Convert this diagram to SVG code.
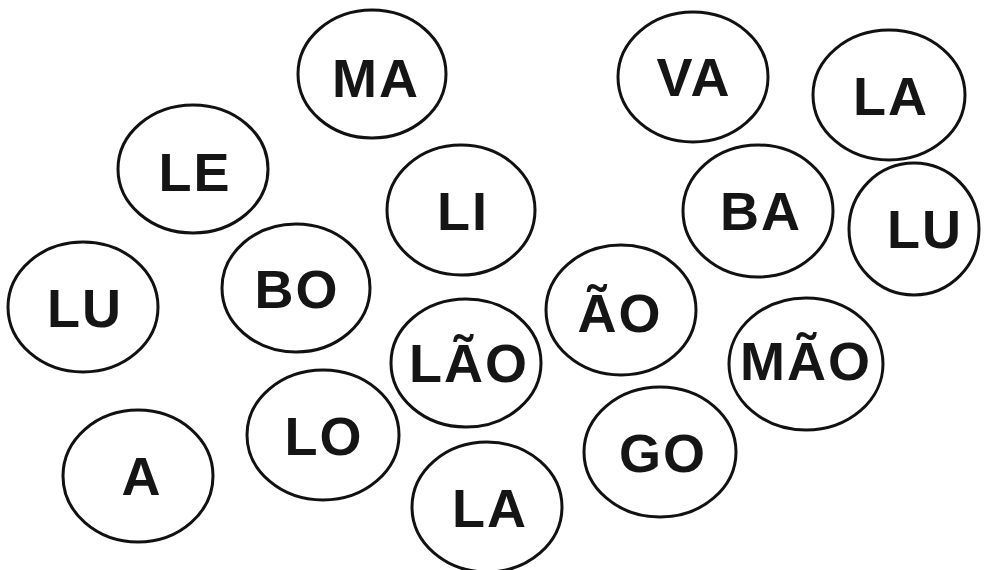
<svg xmlns="http://www.w3.org/2000/svg" width="996" height="570" viewBox="0 0 996 570">
<style>
ellipse{fill:#fff;stroke:#111;stroke-width:3}
text{font-family:"Liberation Sans",Arial,sans-serif;font-weight:bold;font-size:54px;letter-spacing:2px;fill:#151515;text-anchor:middle}
</style>
<rect width="996" height="570" fill="#fff"/>
<g id="n-ma"><ellipse cx="372" cy="74" rx="74" ry="64"/><text x="376" y="97">MA</text></g>
<g id="n-va"><ellipse cx="693" cy="77" rx="75" ry="65"/><text x="694" y="96">VA</text></g>
<g id="n-la1"><ellipse cx="889" cy="95" rx="76" ry="65"/><text x="891" y="115">LA</text></g>
<g id="n-le"><ellipse cx="193" cy="169" rx="75" ry="64"/><text x="195" y="191">LE</text></g>
<g id="n-li"><ellipse cx="461" cy="210" rx="74" ry="65"/><text x="463" y="230">LI</text></g>
<g id="n-ba"><ellipse cx="758" cy="211" rx="75" ry="66"/><text x="761" y="230">BA</text></g>
<g id="n-lu2"><ellipse cx="914" cy="229" rx="65" ry="66"/><text x="925" y="248">LU</text></g>
<g id="n-lu1"><ellipse cx="83" cy="307" rx="75" ry="65"/><text x="85" y="327">LU</text></g>
<g id="n-bo"><ellipse cx="296" cy="288" rx="74" ry="64"/><text x="297" y="308">BO</text></g>
<g id="n-ao"><ellipse cx="621" cy="310" rx="75" ry="65"/><text x="620" y="332">ÃO</text></g>
<g id="n-lao"><ellipse cx="466" cy="363" rx="75" ry="64"/><text x="469" y="382">LÃO</text></g>
<g id="n-mao"><ellipse cx="806" cy="364" rx="77" ry="66"/><text x="806" y="380">MÃO</text></g>
<g id="n-lo"><ellipse cx="323" cy="435" rx="76" ry="65"/><text x="324" y="455">LO</text></g>
<g id="n-a"><ellipse cx="138" cy="476" rx="75" ry="66"/><text x="142" y="495">A</text></g>
<g id="n-go"><ellipse cx="660" cy="452" rx="76" ry="65"/><text x="663" y="472">GO</text></g>
<g id="n-la2"><ellipse cx="487" cy="507" rx="75" ry="65"/><text x="490" y="527">LA</text></g>
<g id="connectors"></g>
</svg>
